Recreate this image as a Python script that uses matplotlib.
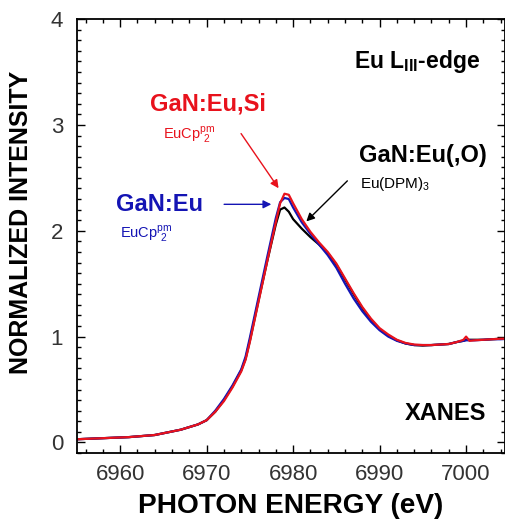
import matplotlib.pyplot as plt
from matplotlib.ticker import MultipleLocator

plt.rcParams['font.family'] = ['Liberation Sans', 'DejaVu Sans']
plt.rcParams['mathtext.fontset'] = 'custom'
plt.rcParams['mathtext.rm'] = 'Liberation Sans'
plt.rcParams['mathtext.bf'] = 'Liberation Sans:bold'

# photon energy (eV)
energy = [6955, 6958, 6961, 6964, 6967, 6969, 6970, 6971, 6972, 6973, 6974,
          6974.5, 6975, 6976, 6977, 6978, 6978.5, 6979, 6979.5, 6980, 6981, 6982,
          6983, 6984, 6985, 6986, 6987, 6988, 6989, 6990, 6991, 6992, 6993,
          6994, 6995, 6996, 6997, 6998, 6999, 6999.7, 7000, 7000.4, 7001,
          7002, 7003, 7004, 7005]

# GaN:Eu,Si (EuCp^pm_2)
red_si = [0.03, 0.04, 0.05, 0.07, 0.12, 0.17, 0.21, 0.29, 0.39, 0.52, 0.67,
          0.78, 0.95, 1.33, 1.71, 2.08, 2.26, 2.35, 2.34, 2.26, 2.11, 1.99,
          1.89, 1.80, 1.69, 1.55, 1.41, 1.28, 1.17, 1.08, 1.02, 0.97, 0.94,
          0.925, 0.92, 0.92, 0.925, 0.93, 0.95, 0.97, 1.00, 0.96, 0.965,
          0.97, 0.975, 0.98, 0.98]

# GaN:Eu (EuCp^pm_2)
blue_eu = [0.03, 0.04, 0.05, 0.07, 0.12, 0.17, 0.21, 0.30, 0.41, 0.54, 0.69,
           0.81, 0.99, 1.37, 1.75, 2.12, 2.27, 2.31, 2.30, 2.22, 2.08, 1.97,
           1.87, 1.77, 1.65, 1.50, 1.36, 1.24, 1.14, 1.06, 1.00, 0.96, 0.935,
           0.92, 0.92, 0.92, 0.925, 0.93, 0.95, 0.96, 0.965, 0.965, 0.965,
           0.97, 0.975, 0.975, 0.98]

# GaN:Eu(,O) (Eu(DPM)_3)
black_o = [0.03, 0.04, 0.05, 0.07, 0.12, 0.17, 0.21, 0.29, 0.40, 0.53, 0.68,
           0.79, 0.96, 1.34, 1.71, 2.06, 2.20, 2.22, 2.18, 2.11, 2.02, 1.94,
           1.87, 1.79, 1.68, 1.54, 1.40, 1.27, 1.16, 1.07, 1.01, 0.965, 0.935,
           0.92, 0.915, 0.92, 0.925, 0.93, 0.95, 0.96, 0.97, 0.97, 0.97,
           0.97, 0.975, 0.98, 0.98]

red = '#e8121c'
blue = '#1414b4'

fig = plt.figure(figsize=(5.06, 5.24), dpi=100)
ax = fig.add_axes([0.152, 0.1355, 0.846, 0.828])

ax.plot(energy, black_o, color='black', lw=1.6)
ax.plot(energy, blue_eu, color=blue, lw=1.6)
ax.plot(energy, red_si, color=red, lw=1.6)

ax.set_xlim(6955, 7004.5)
ax.set_ylim(-0.1, 4)

ax.xaxis.set_major_locator(MultipleLocator(10))
ax.xaxis.set_minor_locator(MultipleLocator(2))
ax.yaxis.set_major_locator(MultipleLocator(1))
ax.yaxis.set_minor_locator(MultipleLocator(0.1))
ax.tick_params(which='both', direction='in', top=True, right=True,
               labelsize=16, labelcolor='#333333', width=1)
ax.tick_params(which='major', length=6)
ax.tick_params(which='minor', length=3)
ax.tick_params(axis='y', pad=10)
ax.tick_params(axis='x', pad=8)
for s in ax.spines.values():
    s.set_linewidth(1.3)

ax.set_xlabel('PHOTON ENERGY (eV)', fontsize=20.2, fontweight='bold', labelpad=6)
ax.set_ylabel('NORMALIZED INTENSITY', fontsize=18, fontweight='bold')
ax.yaxis.set_label_coords(-0.103, 0.532)

# labels and arrows
ax.text(6987.0, 3.6, r'Eu L$_{\mathbf{III}}$-edge', fontsize=16.5, fontweight='bold',
        va='center')
ax.text(6963.4, 3.2, 'GaN:Eu,Si', fontsize=17, fontweight='bold', color=red,
        va='center')
ax.text(6964.9, 2.9, r'EuCp$^{\mathrm{pm}}_{\ 2}$', fontsize=10.5, color=red,
        va='center')
ax.text(6987.6, 2.71, 'GaN:Eu(,O)', fontsize=17, fontweight='bold', va='center')
ax.text(6987.7, 2.44, r'Eu(DPM)$_3$', fontsize=11, va='center')
ax.text(6959.5, 2.25, 'GaN:Eu', fontsize=17, fontweight='bold', color=blue,
        va='center')
ax.text(6960.0, 1.97, r'EuCp$^{\mathrm{pm}}_{\ 2}$', fontsize=10.5, color=blue,
        va='center')
ax.text(7002.3, 0.27, 'XANES', fontsize=17, fontweight='bold', ha='right',
        va='center')

ax.annotate('', xy=(6978.5, 2.38), xytext=(6973.8, 2.94),
            arrowprops=dict(arrowstyle='-|>', color=red, lw=1, mutation_scale=12))
ax.annotate('', xy=(6977.8, 2.25), xytext=(6971.7, 2.25),
            arrowprops=dict(arrowstyle='-|>', color=blue, lw=1, mutation_scale=12))
ax.annotate('', xy=(6981.3, 2.07), xytext=(6986.5, 2.49),
            arrowprops=dict(arrowstyle='-|>', color='black', lw=1, mutation_scale=12))

fig.savefig('out.png', dpi=100)
